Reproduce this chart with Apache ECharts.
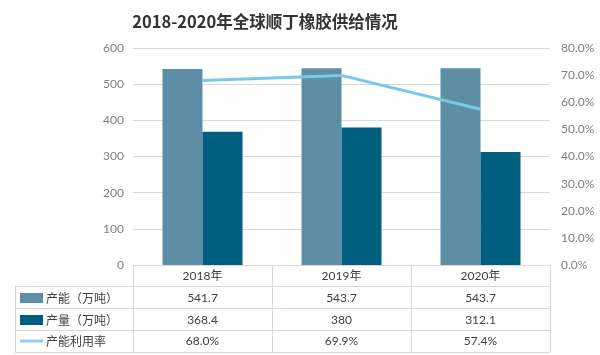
<!DOCTYPE html>
<html><head><meta charset="utf-8">
<script src="https://cdn.jsdelivr.net/npm/echarts@6/dist/echarts.min.js"></script>
<style>html,body{margin:0;padding:0;background:#fff}#c{width:600px;height:355px}</style>
</head><body><div id="c"></div>
<script>
const titleText = '2018-2020年全球顺丁橡胶供给情况';
const categories = ['2018年', '2019年', '2020年'];
const seriesNames = ['产能（万吨）', '产量（万吨）', '产能利用率'];
const capacity = [541.7, 543.7, 543.7];
const output = [368.4, 380, 312.1];
const utilization = [0.680, 0.699, 0.574];
const leftTicks = [0, 600, 100];
const rightTicks = [0, 0.8, 0.1];

const F = "Lato, 'Noto Sans CJK SC', sans-serif";
const gridL = 133, gridR = 550, axisY = 265;
const lineColor = '#d9d9d9';

function rowAxis(formatter, margin) {
  return {
    type: 'category', data: categories, position: 'bottom', gridIndex: 0,
    axisLine: {show: false}, axisTick: {show: false},
    axisLabel: {margin: margin, verticalAlign: 'middle', color: '#404040', fontFamily: F, fontSize: 12, formatter: formatter}
  };
}
function rowLegend(name, top, icon, h) {
  return {orient: 'vertical', left: 20, top: top, padding: 0, itemWidth: 23, itemHeight: h, icon: icon,
    data: [name], selectedMode: false, itemGap: 3,
    textStyle: {fontFamily: "'Noto Sans CJK SC', sans-serif", fontSize: 12, color: '#404040', lineHeight: 14, padding: [0, 0, 0, -2]}};
}

const chart = echarts.init(document.getElementById('c'));
chart.setOption({
  animation: false,
  backgroundColor: '#fff',
  title: {text: titleText, left: 260, top: 8, textAlign: 'center',
    textStyle: {fontFamily: "'Noto Sans CJK SC', sans-serif", fontWeight: 'bold', fontSize: 16.5, color: '#333'}},
  grid: {left: gridL, right: 600 - gridR, top: 48, bottom: 355 - axisY},
  legend: [
    rowLegend(seriesNames[0], 291, 'rect', 10),
    rowLegend(seriesNames[1], 313, 'rect', 10),
    rowLegend(seriesNames[2], 334, 'rect', 3)
  ],
  xAxis: [
    {type: 'category', data: categories,
      axisLine: {lineStyle: {color: lineColor}},
      axisTick: {show: true, length: 87, interval: 0, lineStyle: {color: lineColor}},
      axisLabel: {margin: 11, verticalAlign: 'middle', color: '#404040', fontFamily: F, fontSize: 12}},
    rowAxis((v, i) => capacity[i].toString(), 33),
    rowAxis((v, i) => output[i].toString(), 55),
    rowAxis((v, i) => (utilization[i] * 100).toFixed(1) + '%', 76)
  ],
  yAxis: [
    {type: 'value', min: leftTicks[0], max: leftTicks[1], interval: leftTicks[2],
      axisLine: {show: false}, axisTick: {show: false},
      axisLabel: {margin: 9, color: '#7f7f7f', fontFamily: F, fontSize: 12},
      splitLine: {lineStyle: {color: lineColor}}},
    {type: 'value', min: rightTicks[0], max: rightTicks[1], interval: rightTicks[2],
      axisLine: {show: false}, axisTick: {show: false},
      axisLabel: {margin: 11, color: '#7f7f7f', fontFamily: F, fontSize: 12,
        formatter: v => (v * 100).toFixed(1) + '%'},
      splitLine: {show: false}}
  ],
  series: [
    {name: seriesNames[0], type: 'bar', data: capacity, barWidth: 40, barGap: '0%',
      itemStyle: {color: '#5d8ea6'}},
    {name: seriesNames[1], type: 'bar', data: output, barWidth: 40, barGap: '0%',
      itemStyle: {color: '#005e7e'}},
    {name: seriesNames[2], type: 'line', yAxisIndex: 1, data: utilization, symbol: 'none',
      lineStyle: {color: '#78c8e6', width: 3}, itemStyle: {color: '#8fd0e8'}}
  ],
  graphic: [286, 308, 330, 352].map(y => ({type: 'line', silent: true,
      shape: {x1: 15, y1: y + 0.5, x2: gridR, y2: y + 0.5}, style: {stroke: lineColor, lineWidth: 1}}))
    .concat([{type: 'line', silent: true, shape: {x1: 15.5, y1: 286, x2: 15.5, y2: 352},
      style: {stroke: lineColor, lineWidth: 1}}])
});
</script></body></html>
